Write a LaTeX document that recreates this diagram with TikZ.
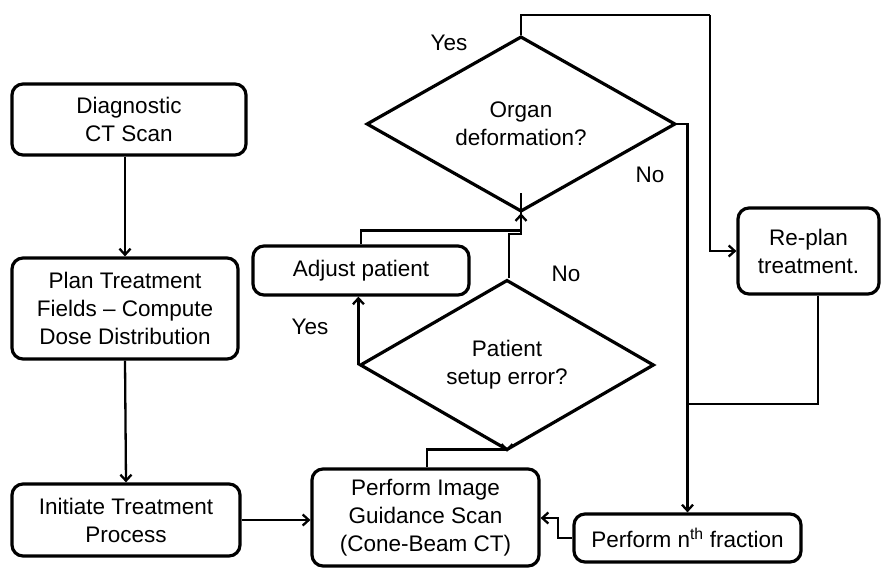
\documentclass[tikz,border=0pt]{standalone}
\usepackage{fontspec}
\setmainfont{Liberation Sans}
\usetikzlibrary{shapes.geometric,arrows.meta}
\begin{document}
\begin{tikzpicture}[x=1pt,y=-1pt,
  box/.style={draw,line width=3.2pt,rounded corners=11pt,align=center,inner sep=0pt,font=\fontsize{22.5}{28}\selectfont},
  dia/.style={draw,diamond,line width=3.2pt,align=center,inner sep=0pt,font=\fontsize{22.5}{28}\selectfont},
  conn/.style={line width=2.3pt},
  arr/.style={conn,-{Straight Barb[length=6pt,width=11pt,line width=2.3pt]}},
  lbl/.style={font=\fontsize{22.5}{28}\selectfont}]
\useasboundingbox (0,0) rectangle (882,568);
\node[box,minimum width=234pt,minimum height=71pt] (diag) at (129,119.5) {Diagnostic\\CT Scan};
\node[box,minimum width=226pt,minimum height=101pt] (plan) at (125,308.5) {Plan Treatment\\Fields – Compute\\Dose Distribution};
\node[box,minimum width=228pt,minimum height=72pt] (init) at (126,520) {Initiate Treatment\\Process};
\node[box,minimum width=227pt,minimum height=97pt] (img) at (425.5,517.5) {Perform Image\\Guidance Scan\\(Cone-Beam CT)};
\node[box,minimum width=227pt,minimum height=48pt] (frac) at (687.5,538) {Perform n\textsuperscript{th} fraction};
\node[box,minimum width=216pt,minimum height=49pt] (adj) at (361,270.5) {Adjust patient};
\node[box,minimum width=141pt,minimum height=86pt] (replan) at (808.5,251) {Re-plan\\treatment.};
\node[dia,minimum width=309pt,minimum height=168pt] (organ) at (521,124) {Organ\\deformation?};
\node[dia,minimum width=294pt,minimum height=132pt] (pat) at (507,365) {Patient\\setup error?};

\node[lbl] (yes1) at (449,43) {Yes};
\node[lbl] (no1) at (650,175) {No};
\node[lbl] (no2) at (566,274) {No};
\node[lbl] (yes2) at (310,327) {Yes};

\coordinate (top) at (710,15);
\coordinate (join) at (688,404);
\coordinate (fbend) at (558,538);

\draw[arr] (diag.south -| plan.north) -- (plan.north);
\draw[arr] (plan.south) -- (init.north);
\draw[arr] (init.east) -- (img.west |- init.east);
\draw[arr] ([xshift=1.5pt]img.north) -- ++(0,-18) -| (pat.south);
\draw[arr] (pat.west) -- (pat.west |- adj.south);
\draw[arr] (adj.north) -- ++(0,-14) -| (organ.south);
\draw[conn] ([xshift=2pt]pat.north) -- ++(0,-44) -| ([yshift=20pt]organ.south);
\draw[conn] (organ.north) |- (top);
\draw[arr] (top) |- (replan.west);
\draw[arr] (organ.east) -| (frac.north);
\draw[conn] ([xshift=9.5pt]replan.south) |- (join);
\draw[arr] (frac.west) -- (fbend) |- ([yshift=-0.5pt]img.east);
\end{tikzpicture}
\end{document}
